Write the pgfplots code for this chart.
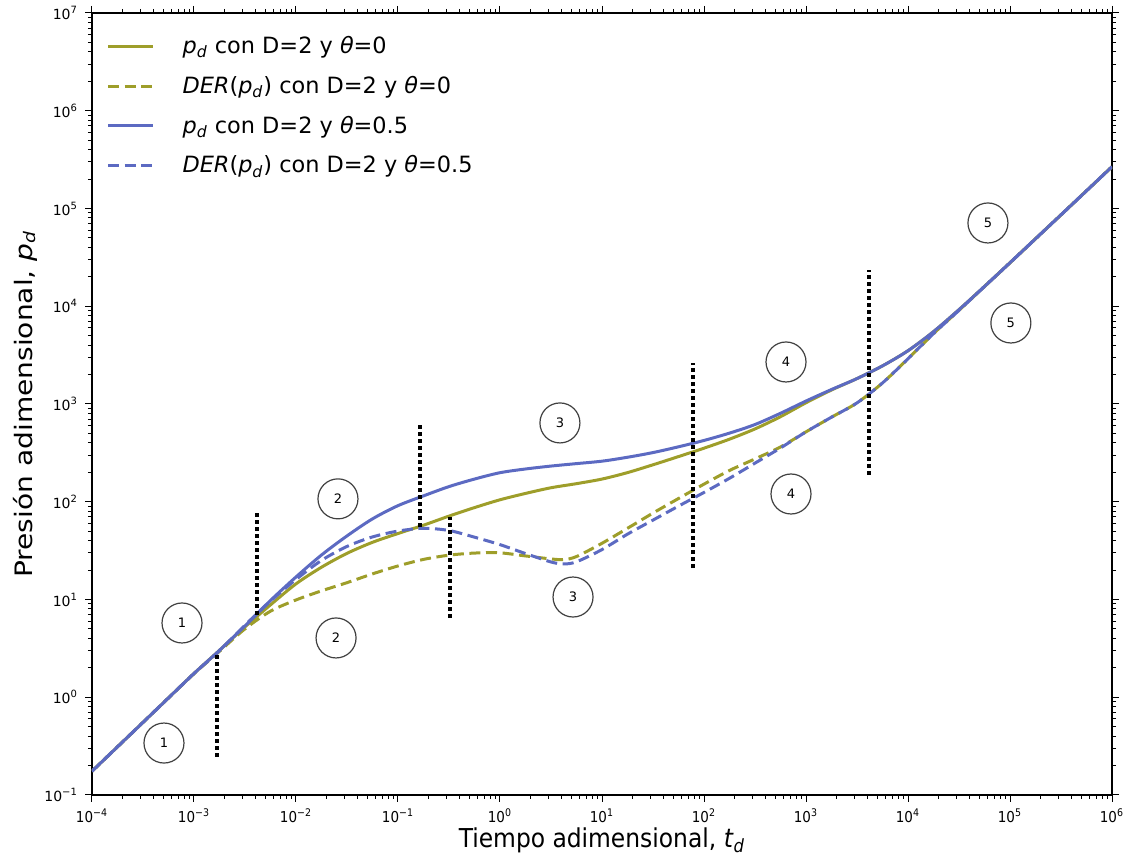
\documentclass[border=0pt]{standalone}
\usepackage{fontspec}
\setmainfont{DejaVu Sans}
\newfontfamily\condfont{DejaVu Sans Condensed}
\usepackage{pgfplots}
\pgfplotsset{compat=1.18}
\definecolor{olivec}{RGB}{158,158,42}
\definecolor{bluec}{RGB}{92,106,194}
\newcommand\pd{\textit{p}\textsubscript{\textit{d}}}
\newcommand\thet{\textit{θ}}
\newcommand\tp[1]{10\textsuperscript{#1}}
\begin{document}
\begin{tikzpicture}
\begin{axis}[
  scale only axis,
  width=510pt, height=391pt,
  xmode=log, ymode=log,
  xmin=1e-4, xmax=1e6, ymin=1e-1, ymax=1e7,
  xtick={1e-4,1e-3,1e-2,1e-1,1,1e1,1e2,1e3,1e4,1e5,1e6},
  xticklabels={\tp{−4},\tp{−3},\tp{−2},\tp{−1},\tp{0},\tp{1},\tp{2},\tp{3},\tp{4},\tp{5},\tp{6}},
  ytick={1e-1,1,1e1,1e2,1e3,1e4,1e5,1e6,1e7},
  yticklabels={\tp{−1},\tp{0},\tp{1},\tp{2},\tp{3},\tp{4},\tp{5},\tp{6},\tp{7}},
  tick align=outside,
  major tick length=3.5pt, minor tick length=2pt,
  tick style={black, line width=0.5pt},
  axis line style={line width=0.7pt},
  xticklabel style={font=\condfont\fontsize{7.5}{8}\selectfont},
  yticklabel style={font=\fontsize{7}{8}\selectfont},
  xlabel={{\condfont Tiempo adimensional, \textit{t}\textsubscript{\textit{d}}}},
  ylabel={\scalebox{1.17}[1]{Presión adimensional, \pd}},
  xlabel style={font=\fontsize{13}{15}\selectfont, at={(axis description cs:0.5,-0.058)}, anchor=center},
  ylabel style={font=\fontsize{12}{14}\selectfont, at={(axis description cs:-0.0657,0.5)}, anchor=center},
  legend style={at={(axis description cs:0.008,0.981)}, anchor=north west, draw=none, fill=none,
    font=\fontsize{11.2}{13}\selectfont, row sep=5.8pt},
  legend cell align=left,
  legend image code/.code={\draw[#1] (0pt,0pt) -- (22.5pt,0pt); \path (34.5pt,0pt);},
]
\addplot[olivec, line width=1.5pt, smooth, tension=0.5] coordinates {
(1e-4,0.175) (1.778e-4,0.311) (3.162e-4,0.553) (5.623e-4,0.984) (1e-3,1.75) (1.778e-3,3.02)
(3.162e-3,5.25) (5.623e-3,8.81) (1e-2,14.45) (1.778e-2,21.38) (3.162e-2,29.65) (5.623e-2,38.46)
(0.1,47.32) (0.1778,57.54) (0.3162,71.29) (0.5623,87.1) (1,104.7) (1.778,121.6) (3.162,139.0)
(5.623,153.1) (10,170.6) (17.78,198.6) (31.62,238.8) (56.23,289.7) (100,353.2) (177.8,436.5)
(316.2,555.9) (562.3,741.3) (1000,1030) (1778,1390) (3162,1820) (5623,2455) (1e4,3508)
(17783,5495) (31623,9226) (56234,15940) (1e5,27860) (177828,48980) (316228,86100) (562341,151700) (1e6,267600)};
\addlegendentry{\pd{} con D=2 y \thet=0}
\addplot[olivec, line width=1.5pt, dash pattern=on 5.5pt off 2.8pt, smooth, tension=0.5] coordinates {
(1e-4,0.175) (1.778e-4,0.311) (3.162e-4,0.553) (5.623e-4,0.984) (1e-3,1.74) (1.778e-3,2.95)
(3.162e-3,5.01) (5.623e-3,7.59) (1e-2,9.89) (1.778e-2,12.25) (3.162e-2,14.86) (5.623e-2,18.28)
(0.1,22.03) (0.1778,25.7) (0.3162,28.4) (0.5623,29.85) (1,30.0) (1.778,27.9) (3.162,26.0) (4.217,25.6)
(5.623,27.5) (10,37.6) (17.78,53.5) (31.62,76.6) (56.23,107.9) (100,151.4) (177.8,208.9)
(316.2,274.2) (562.3,363) (1000,518.8) (1778,732.8) (3162,1026) (5623,1641) (1e4,2904)
(17783,5248) (31623,9078) (56234,15940) (1e5,27860) (177828,48980) (316228,86100) (562341,151700) (1e6,267600)};
\addlegendentry{\textit{DER}(\pd) con D=2 y \thet=0}
\addplot[bluec, line width=1.5pt, smooth, tension=0.5] coordinates {
(1e-4,0.175) (1.778e-4,0.311) (3.162e-4,0.553) (5.623e-4,0.984) (1e-3,1.75) (1.778e-3,3.02)
(3.162e-3,5.37) (5.623e-3,9.77) (1e-2,17.0) (1.778e-2,28.5) (3.162e-2,44.7) (5.623e-2,66.8)
(0.1,91.2) (0.1778,114.8) (0.3162,142.9) (0.5623,170.6) (1,198.2) (1.778,216.3) (3.162,231.7)
(5.623,245.5) (10,260.0) (17.78,285.1) (31.62,318.4) (56.23,364.8) (100,423.6) (177.8,503.5)
(316.2,616.6) (562.3,803.5) (1000,1072) (1778,1406) (3162,1820) (5623,2455) (1e4,3508)
(17783,5495) (31623,9226) (56234,15940) (1e5,27860) (177828,48980) (316228,86100) (562341,151700) (1e6,267600)};
\addlegendentry{\pd{} con D=2 y \thet=0.5}
\addplot[bluec, line width=1.5pt, dash pattern=on 5.5pt off 2.8pt, smooth, tension=0.5] coordinates {
(1e-4,0.175) (1.778e-4,0.311) (3.162e-4,0.553) (5.623e-4,0.984) (1e-3,1.75) (1.778e-3,2.99)
(3.162e-3,5.46) (5.623e-3,9.62) (1e-2,16.03) (1.778e-2,25.1) (3.162e-2,34.9) (5.623e-2,43.65)
(0.1,50.1) (0.1778,53.5) (0.3162,50.8) (0.5623,43.4) (1,36.4) (1.778,29.5) (3.162,24.2) (4.217,23.1)
(5.623,24.3) (10,32.4) (17.78,46.6) (31.62,64.9) (56.23,90.2) (100,124.5) (177.8,173.8)
(316.2,248.3) (562.3,354.8) (1000,518.8) (1778,732.8) (3162,1026) (5623,1641) (1e4,2904)
(17783,5248) (31623,9078) (56234,15940) (1e5,27860) (177828,48980) (316228,86100) (562341,151700) (1e6,267600)};
\addlegendentry{\textit{DER}(\pd) con D=2 y \thet=0.5}
% vertical dotted separators
\addplot[black, line width=2pt, dash pattern=on 2pt off 1.5pt, forget plot] coordinates {(1.692e-3,0.245) (1.692e-3,2.84)};
\addplot[black, line width=2pt, dash pattern=on 2pt off 1.5pt, forget plot] coordinates {(4.12e-3,6.94) (4.12e-3,76.8)};
\addplot[black, line width=2pt, dash pattern=on 2pt off 1.5pt, forget plot] coordinates {(0.1643,55.2) (0.1643,640)};
\addplot[black, line width=2pt, dash pattern=on 2pt off 1.5pt, forget plot] coordinates {(0.3235,6.47) (0.3235,70.3)};
\addplot[black, line width=2pt, dash pattern=on 2pt off 1.5pt, forget plot] coordinates {(78.5,20.9) (78.5,2606)};
\addplot[black, line width=2pt, dash pattern=on 2pt off 1.5pt, forget plot] coordinates {(4175,187.8) (4175,23500)};
% circled labels
\tikzset{lab/.style={circle, draw=black!75, line width=0.6pt, minimum size=20pt, inner sep=0pt, font=\fontsize{6.5}{7}\selectfont}}
\node[lab] at (axis cs:7.63e-4,5.75) {1};
\node[lab] at (axis cs:5.08e-4,0.34) {1};
\node[lab] at (axis cs:0.0258,107) {2};
\node[lab] at (axis cs:0.0247,4.04) {2};
\node[lab] at (axis cs:3.87,640) {3};
\node[lab] at (axis cs:5.2,10.6) {3};
\node[lab] at (axis cs:637,2690) {4};
\node[lab] at (axis cs:713,120) {4};
\node[lab] at (axis cs:60800,71100) {5};
\node[lab] at (axis cs:1.02e5,6740) {5};
\coordinate (SW) at (rel axis cs:0,0);
\coordinate (NE) at (rel axis cs:1,1);
\end{axis}
\pgfresetboundingbox
\path ([shift={(-46pt,-31.5pt)}]SW) rectangle ([shift={(11pt,6.5pt)}]NE);
\end{tikzpicture}
\end{document}
